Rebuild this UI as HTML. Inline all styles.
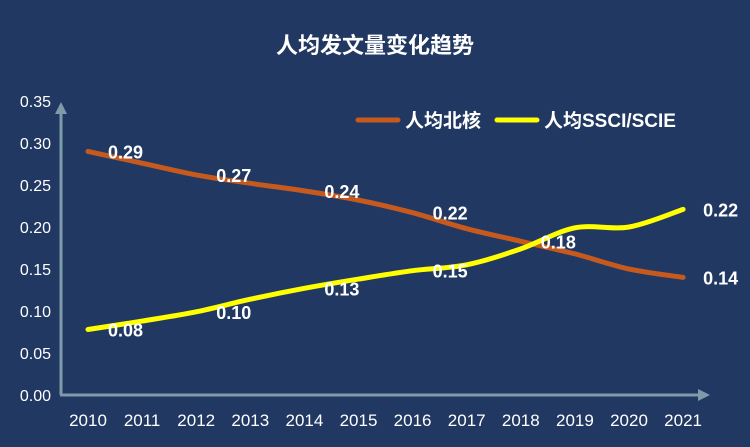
<!DOCTYPE html>
<html><head><meta charset="utf-8"><style>
html,body{margin:0;padding:0;background:#213862;}
svg{display:block;font-family:"Liberation Sans","Noto Sans CJK SC",sans-serif;}
</style></head><body>
<svg id="c" width="750" height="447">
<rect width="750" height="447" fill="#213862"/>
<text x="375" y="53" text-anchor="middle" fill="#fff" font-size="22" font-weight="bold">人均发文量变化趋势</text>
<g>
<line x1="358" y1="120" x2="398" y2="120" stroke="#c65a1e" stroke-width="5" stroke-linecap="round"/>
<text x="405" y="127" fill="#fff" font-size="19" font-weight="bold">人均北核</text>
<line x1="497" y1="120" x2="537" y2="120" stroke="#ffff00" stroke-width="5" stroke-linecap="round"/>
<text x="544" y="127" fill="#fff" font-size="19" font-weight="bold">人均SSCI/SCIE</text>
</g>
<g id="axes"></g>
<g id="series"></g>
</svg>
<script>
const years = ["2010","2011","2012","2013","2014","2015","2016","2017","2018","2019","2020","2021"];
const beihe = [0.29,0.276,0.262,0.252,0.243,0.232,0.217,0.198,0.183,0.168,0.15,0.14];
const ssci = [0.078,0.088,0.099,0.114,0.127,0.138,0.148,0.155,0.174,0.199,0.2,0.221];
const beiheLabels = ["0.29","","0.27","","0.24","","0.22","","0.18","","","0.14"];
const ssciLabels = ["0.08","","0.10","","0.13","","0.15","","","","","0.22"];
const yTicks = ["0.00","0.05","0.10","0.15","0.20","0.25","0.30","0.35"];
const NS="http://www.w3.org/2000/svg";
function X(i){return 88+i*54.1;}
function Y(v){return 395-v*840;}
function mk(t,a,p){const e=document.createElementNS(NS,t);for(const k in a)e.setAttribute(k,a[k]);p.appendChild(e);return e;}
const ax=document.getElementById('axes');
yTicks.forEach(function(t){const e=mk('text',{x:51,y:Y(parseFloat(t))+6,'text-anchor':'end',fill:'#fff','font-size':16},ax);e.textContent=t;

});
years.forEach(function(t,i){const e=mk('text',{x:X(i),y:426,'text-anchor':'middle',fill:'#fff','font-size':17},ax);e.textContent=t;

});
const ya=mk('line',{x1:61,y1:395,x2:61,y2:112,stroke:'#7f9aa8','stroke-width':3},ax);


const yar=mk('polygon',{points:'55,114 67,114 61,102',fill:'#7f9aa8'},ax);


const xa=mk('line',{x1:60,y1:395,x2:700,y2:395,stroke:'#7f9aa8','stroke-width':3},ax);


const xar=mk('polygon',{points:'698,389 698,401 710,395',fill:'#7f9aa8'},ax);


function path(vals){const p=vals.map(function(v,i){return [X(i),Y(v)];});let d='M'+p[0][0]+','+p[0][1];
for(let i=0;i<p.length-1;i++){const p0=p[Math.max(0,i-1)],p1=p[i],p2=p[i+1],p3=p[Math.min(p.length-1,i+2)];
d+=' C'+(p1[0]+(p2[0]-p0[0])/6)+','+(p1[1]+(p2[1]-p0[1])/6)+' '+(p2[0]-(p3[0]-p1[0])/6)+','+(p2[1]-(p3[1]-p1[1])/6)+' '+p2[0]+','+p2[1];}return d;}
const sg=document.getElementById('series');
const l1=mk('path',{d:path(beihe),fill:'none',stroke:'#c65a1e','stroke-width':5,'stroke-linecap':'round'},sg);


const l2=mk('path',{d:path(ssci),fill:'none',stroke:'#ffff00','stroke-width':5,'stroke-linecap':'round'},sg);


function labels(vals,labs,name){labs.forEach(function(t,i){if(!t)return;const e=mk('text',{x:X(i)+20,y:Y(vals[i])+7,fill:'#fff','font-size':18,'font-weight':'bold'},sg);e.textContent=t;

});}
labels(beihe,beiheLabels,'beihe-value-label');
labels(ssci,ssciLabels,'ssci-value-label');
</script>
</body></html>
